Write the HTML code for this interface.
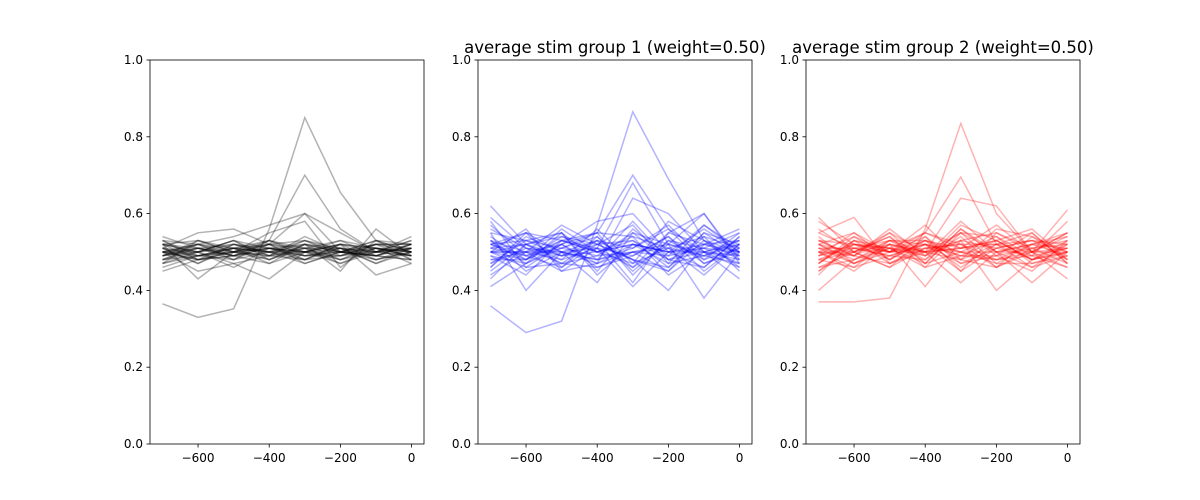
<!DOCTYPE html>
<html><head><meta charset="utf-8"><style>
body{margin:0;background:#fff;}
svg{display:block;font-family:"DejaVu Sans","Liberation Sans",sans-serif;}
</style></head><body>
<svg id="chart" width="1200" height="500"></svg>
<script>
const xValues=[-700,-600,-500,-400,-300,-200,-100,0];
const xTicks=[-600,-400,-200,0];
const yTicks=[0,0.2,0.4,0.6,0.8,1.0];
const titles=["","average stim group 1 (weight=0.50)","average stim group 2 (weight=0.50)"];
const colors=["#000000","#0000ff","#ff0000"];
const seriesBlack=[
[0.365,0.33,0.352,0.56,0.85,0.655,0.53,0.52],
[0.52,0.50,0.51,0.53,0.70,0.56,0.50,0.52],
[0.50,0.52,0.49,0.51,0.50,0.48,0.51,0.50],
[0.48,0.50,0.52,0.49,0.51,0.50,0.49,0.52],
[0.53,0.49,0.50,0.52,0.48,0.51,0.50,0.49],
[0.51,0.47,0.51,0.50,0.53,0.49,0.52,0.51],
[0.49,0.51,0.48,0.53,0.50,0.52,0.48,0.50],
[0.52,0.50,0.53,0.48,0.51,0.47,0.50,0.53],
[0.47,0.53,0.50,0.51,0.49,0.50,0.53,0.48],
[0.50,0.48,0.52,0.50,0.52,0.51,0.47,0.50],
[0.54,0.51,0.49,0.47,0.50,0.53,0.51,0.49],
[0.46,0.49,0.51,0.52,0.47,0.50,0.49,0.51],
[0.51,0.55,0.56,0.52,0.60,0.50,0.49,0.52],
[0.50,0.45,0.47,0.43,0.50,0.52,0.44,0.47],
[0.52,0.43,0.50,0.55,0.58,0.46,0.53,0.50],
[0.48,0.52,0.54,0.57,0.60,0.55,0.50,0.54],
[0.49,0.50,0.46,0.51,0.52,0.45,0.56,0.49],
[0.45,0.48,0.50,0.49,0.54,0.50,0.51,0.47],
[0.51,0.49,0.51,0.50,0.49,0.51,0.50,0.51],
[0.50,0.51,0.50,0.49,0.50,0.49,0.51,0.50],
[0.49,0.52,0.50,0.48,0.52,0.50,0.48,0.51],
[0.52,0.48,0.49,0.51,0.48,0.52,0.51,0.49],
[0.48,0.51,0.52,0.50,0.51,0.48,0.52,0.48],
[0.50,0.49,0.48,0.52,0.50,0.50,0.49,0.52],
[0.51,0.50,0.47,0.49,0.53,0.50,0.52,0.50],
[0.49,0.53,0.51,0.50,0.48,0.49,0.50,0.53],
[0.53,0.48,0.50,0.52,0.51,0.51,0.48,0.50],
[0.47,0.50,0.53,0.51,0.50,0.52,0.51,0.49],
[0.50,0.52,0.51,0.47,0.52,0.48,0.50,0.51],
[0.52,0.51,0.49,0.50,0.47,0.50,0.53,0.50],
[0.48,0.49,0.50,0.53,0.51,0.53,0.49,0.48],
[0.51,0.47,0.52,0.51,0.49,0.49,0.52,0.52],
[0.49,0.51,0.49,0.52,0.53,0.51,0.47,0.51],
[0.50,0.50,0.53,0.49,0.48,0.52,0.50,0.49],
[0.53,0.52,0.48,0.50,0.50,0.47,0.51,0.50],
[0.47,0.49,0.51,0.48,0.52,0.50,0.52,0.52],
[0.52,0.53,0.50,0.51,0.50,0.51,0.49,0.48],
[0.50,0.48,0.49,0.53,0.49,0.50,0.50,0.51]
];
const seriesBlue=[
[0.36,0.29,0.32,0.57,0.865,0.69,0.53,0.50],
[0.50,0.48,0.53,0.55,0.70,0.56,0.50,0.52],
[0.52,0.55,0.50,0.51,0.68,0.52,0.60,0.47],
[0.62,0.52,0.55,0.48,0.50,0.45,0.55,0.52],
[0.41,0.47,0.52,0.58,0.60,0.50,0.46,0.54],
[0.55,0.40,0.50,0.53,0.42,0.55,0.60,0.48],
[0.50,0.56,0.45,0.47,0.64,0.60,0.50,0.43],
[0.48,0.50,0.57,0.52,0.48,0.40,0.52,0.56],
[0.53,0.45,0.50,0.42,0.55,0.52,0.38,0.50],
[0.45,0.52,0.48,0.56,0.47,0.58,0.53,0.46],
[0.57,0.49,0.53,0.50,0.52,0.47,0.57,0.51],
[0.51,0.55,0.46,0.54,0.45,0.53,0.48,0.55],
[0.49,0.47,0.55,0.45,0.56,0.49,0.51,0.47],
[0.52,0.53,0.51,0.49,0.50,0.51,0.49,0.53],
[0.47,0.51,0.49,0.52,0.53,0.46,0.55,0.49],
[0.54,0.48,0.52,0.46,0.49,0.54,0.45,0.52],
[0.50,0.50,0.48,0.51,0.41,0.50,0.52,0.50],
[0.46,0.54,0.50,0.48,0.58,0.48,0.50,0.48],
[0.58,0.46,0.47,0.53,0.51,0.56,0.47,0.51],
[0.43,0.52,0.54,0.50,0.47,0.51,0.54,0.45],
[0.51,0.49,0.51,0.55,0.54,0.44,0.50,0.53],
[0.50,0.52,0.49,0.50,0.52,0.50,0.51,0.50],
[0.53,0.50,0.52,0.47,0.50,0.52,0.49,0.52],
[0.49,0.44,0.53,0.51,0.46,0.55,0.52,0.49],
[0.56,0.51,0.47,0.49,0.55,0.48,0.46,0.54],
[0.47,0.53,0.55,0.44,0.52,0.50,0.56,0.50],
[0.52,0.49,0.46,0.52,0.57,0.47,0.49,0.47],
[0.50,0.46,0.52,0.55,0.44,0.53,0.51,0.55],
[0.44,0.50,0.50,0.48,0.51,0.57,0.48,0.51],
[0.55,0.53,0.49,0.53,0.48,0.45,0.53,0.48],
[0.48,0.48,0.56,0.50,0.54,0.51,0.44,0.52],
[0.51,0.52,0.47,0.46,0.50,0.49,0.57,0.50],
[0.53,0.47,0.51,0.54,0.46,0.52,0.50,0.46],
[0.46,0.55,0.53,0.50,0.53,0.48,0.52,0.53],
[0.50,0.50,0.45,0.51,0.49,0.54,0.47,0.50],
[0.59,0.51,0.50,0.47,0.52,0.50,0.50,0.49],
[0.52,0.48,0.54,0.52,0.48,0.46,0.54,0.51]
];
const seriesRed=[
[0.37,0.37,0.38,0.56,0.835,0.60,0.50,0.50],
[0.48,0.52,0.50,0.55,0.695,0.52,0.48,0.50],
[0.59,0.50,0.55,0.50,0.64,0.62,0.50,0.61],
[0.40,0.48,0.53,0.50,0.55,0.47,0.52,0.55],
[0.55,0.59,0.47,0.52,0.45,0.55,0.50,0.43],
[0.50,0.45,0.52,0.41,0.53,0.40,0.48,0.52],
[0.47,0.53,0.50,0.57,0.48,0.52,0.55,0.47],
[0.53,0.49,0.56,0.49,0.58,0.50,0.42,0.50],
[0.45,0.52,0.48,0.53,0.51,0.57,0.50,0.54],
[0.52,0.47,0.51,0.46,0.49,0.53,0.56,0.48],
[0.49,0.55,0.50,0.51,0.52,0.48,0.49,0.58],
[0.56,0.50,0.46,0.54,0.47,0.51,0.53,0.50],
[0.51,0.51,0.53,0.48,0.54,0.46,0.51,0.52],
[0.48,0.46,0.49,0.52,0.50,0.54,0.47,0.49],
[0.53,0.52,0.51,0.50,0.42,0.50,0.52,0.51],
[0.46,0.50,0.54,0.47,0.56,0.49,0.45,0.53],
[0.50,0.54,0.48,0.55,0.51,0.52,0.50,0.46],
[0.52,0.48,0.52,0.50,0.48,0.56,0.54,0.50],
[0.49,0.51,0.50,0.53,0.50,0.48,0.50,0.55],
[0.44,0.53,0.51,0.49,0.53,0.51,0.49,0.51],
[0.51,0.49,0.47,0.51,0.50,0.50,0.52,0.49],
[0.50,0.50,0.52,0.50,0.51,0.53,0.48,0.50],
[0.54,0.47,0.50,0.52,0.49,0.49,0.51,0.47],
[0.48,0.50,0.54,0.46,0.55,0.50,0.46,0.52],
[0.52,0.55,0.48,0.53,0.46,0.52,0.53,0.48],
[0.46,0.48,0.51,0.55,0.52,0.46,0.50,0.55],
[0.55,0.51,0.49,0.48,0.57,0.53,0.48,0.51],
[0.50,0.46,0.53,0.52,0.47,0.49,0.55,0.47],
[0.47,0.53,0.47,0.50,0.53,0.55,0.51,0.53],
[0.53,0.49,0.55,0.47,0.50,0.47,0.47,0.50],
[0.49,0.52,0.50,0.54,0.45,0.51,0.53,0.52],
[0.51,0.47,0.52,0.49,0.55,0.54,0.49,0.46],
[0.45,0.51,0.49,0.52,0.49,0.48,0.52,0.54],
[0.52,0.50,0.46,0.51,0.52,0.52,0.46,0.49],
[0.58,0.52,0.51,0.47,0.56,0.50,0.50,0.51],
[0.50,0.49,0.53,0.53,0.48,0.46,0.54,0.48],
[0.47,0.54,0.50,0.50,0.51,0.53,0.48,0.53]
];
const allSeries=[seriesBlack,seriesBlue,seriesRed];
const NS="http://www.w3.org/2000/svg";
const svgEl=document.getElementById('chart');
const panelLeft=[150,478,806], panelW=274, topY=60, bottomY=444;
const xMin=-735, xMax=35;
function mk(tag,attrs,parent){const e=document.createElementNS(NS,tag);for(const k in attrs)e.setAttribute(k,attrs[k]);parent.appendChild(e);return e;}
const fmt=v=>(v<0?"\u2212":"")+Math.abs(v);
for(let p=0;p<3;p++){
  const L=panelLeft[p];
  const xs=v=>L+(v-xMin)/(xMax-xMin)*panelW;
  const ys=v=>bottomY-v*(bottomY-topY);
  const g=mk('g',{},svgEl);
  
  
  allSeries[p].forEach((s,i)=>{
    const pts=s.map((v,j)=>xs(xValues[j]).toFixed(1)+','+ys(v).toFixed(1)).join(' ');
    const pl=mk('polyline',{points:pts,fill:'none',stroke:colors[p],'stroke-opacity':0.3,'stroke-width':1.5},g);
    
    
  });
  const fr=mk('rect',{x:L,y:topY,width:panelW,height:bottomY-topY,fill:'none',stroke:'#000','stroke-width':0.8},g);
  
  
  yTicks.forEach(v=>{
    const y=ys(v);
    mk('line',{x1:L-3.5,x2:L,y1:y,y2:y,stroke:'#000','stroke-width':0.8},g);
    const t=mk('text',{x:L-7,y:y+4,'text-anchor':'end','font-size':12,fill:'#000'},g);
    t.textContent=v.toFixed(1);
    
    
  });
  xTicks.forEach(v=>{
    const x=xs(v);
    mk('line',{x1:x,x2:x,y1:bottomY,y2:bottomY+3.5,stroke:'#000','stroke-width':0.8},g);
    const t=mk('text',{x:x,y:bottomY+18,'text-anchor':'middle','font-size':12,fill:'#000'},g);
    t.textContent=fmt(v);
    
    
  });
  if(titles[p]){
    const t=mk('text',{x:L+panelW/2,y:topY-7,'text-anchor':'middle','font-size':16.5,fill:'#000'},g);
    t.textContent=titles[p];
    
    
  }
}
</script>
</body></html>
